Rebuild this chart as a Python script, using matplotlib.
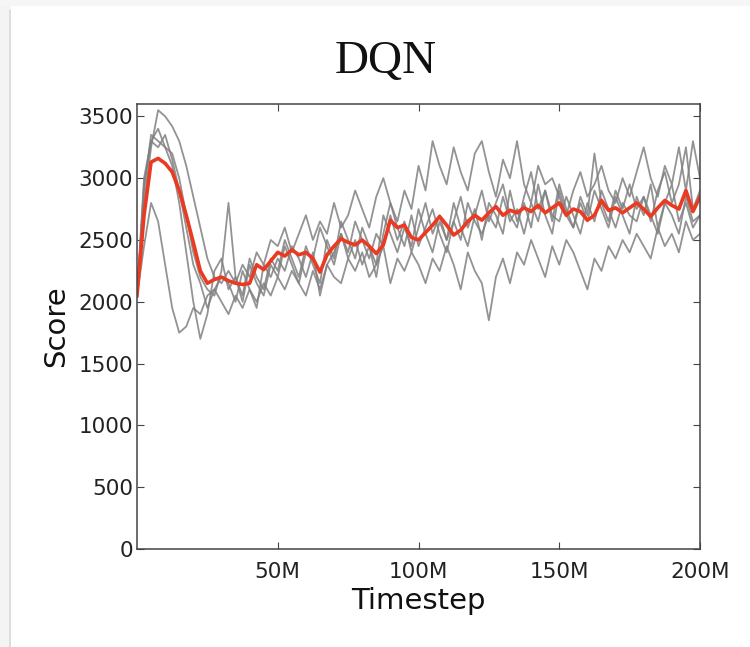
"""DQN score curves: individual runs (gray) and their mean (red)."""

import matplotlib

matplotlib.use("Agg")
import matplotlib.pyplot as plt
import numpy as np
from matplotlib.patches import Rectangle
from matplotlib.ticker import FuncFormatter

# timesteps in millions, one sample every 2.5M
timestep_m = np.arange(0, 200.1, 2.5)

run_1 = [
    2050, 2800, 3250, 3550, 3500, 3420, 3300, 3100, 2850, 2600,
    2350, 2200, 2150, 2250, 2150, 2300, 2200, 2400, 2300, 2500,
    2450, 2600, 2400, 2550, 2700, 2500, 2650, 2550, 2800, 2600,
    2700, 2900, 2750, 2600, 2850, 3000, 2800, 2650, 2900, 2750,
    3100, 2900, 3300, 3100, 2950, 3250, 3050, 2900, 3200, 3300,
    3050, 2850, 3150, 3000, 3300, 2950, 2800, 3100, 2950, 3000,
    2850, 2700, 2900, 3050, 2850, 2950, 3100, 2900, 2800, 3000,
    2850, 3050, 3250, 3000, 2850, 3100, 2950, 3250, 2900, 3300,
    3000,
]
run_2 = [
    2050, 2450, 2800, 2650, 2300, 1950, 1750, 1800, 1950, 1900,
    2050, 2100, 2000, 1900, 2050, 1950, 2100, 2000, 2150, 2050,
    2200, 2100, 2250, 2150, 2050, 2250, 2100, 2300, 2200, 2150,
    2350, 2250, 2400, 2200, 2300, 2450, 2150, 2350, 2250, 2400,
    2300, 2150, 2350, 2250, 2450, 2300, 2100, 2400, 2250, 2150,
    1850, 2200, 2350, 2150, 2400, 2300, 2500, 2350, 2200, 2450,
    2300, 2500, 2400, 2250, 2100, 2350, 2250, 2450, 2350, 2500,
    2400, 2550, 2450, 2350, 2600, 2450, 2550, 2400, 2650, 2500,
    2550,
]
run_3 = [
    2050, 2900, 3350, 3300, 3250, 3100, 2800, 2400, 2000, 1700,
    1900, 2250, 2350, 2100, 2200, 2000, 2300, 2150, 2050, 2300,
    2200, 2450, 2300, 2150, 2400, 2350, 2600, 2450, 2300, 2550,
    2400, 2650, 2500, 2350, 2550, 2450, 2700, 2500, 2650, 2400,
    2600, 2800, 2550, 2700, 2500, 2650, 2850, 2600, 2750, 2500,
    2800, 2700, 2550, 2900, 2650, 2800, 2600, 2950, 2700, 2550,
    2900, 2700, 2600, 2800, 2650, 2900, 2750, 2600, 2850, 2700,
    2550, 2850, 2700, 2950, 2600, 2800, 2700, 2550, 2850, 2650,
    2700,
]
run_4 = [
    2050, 2950, 3300, 3400, 3250, 3200, 3000, 2700, 2400, 2200,
    2100, 2050, 2250, 2800, 2200, 2050, 2350, 2200, 2100, 2350,
    2250, 2500, 2350, 2200, 2450, 2300, 2150, 2500, 2350, 2650,
    2500, 2350, 2600, 2450, 2300, 2700, 2550, 2400, 2600, 2450,
    2750, 2550, 2400, 2650, 2500, 2800, 2600, 2450, 2700, 2900,
    2650, 2800, 2950, 2700, 2600, 2850, 3050, 2750, 2900, 2650,
    2950, 2750, 2600, 2850, 2700, 3200, 2800, 2650, 2900, 2750,
    2950, 2750, 2850, 2650, 2900, 3050, 2800, 2950, 3250, 2750,
    2900,
]
run_5 = [
    2050, 3000, 3300, 3250, 3350, 3150, 2900, 2600, 2300, 2150,
    1950, 2100, 2200, 2150, 2000, 2250, 2100, 1950, 2300, 2200,
    2350, 2250, 2450, 2350, 2200, 2400, 2050, 2300, 2400, 2550,
    2350, 2500, 2300, 2450, 2200, 2550, 2800, 2600, 2450, 2700,
    2450, 2600, 2750, 2550, 2400, 2650, 2500, 2800, 2650, 2550,
    2700, 2600, 2850, 2650, 2750, 2550, 2800, 2650, 2900, 2700,
    2650, 2850, 2700, 2550, 2800, 2650, 2900, 2750, 2600, 2800,
    2700, 2650, 2850, 2700, 2550, 2800, 2950, 2650, 2800, 2600,
    2700,
]
mean_score = [
    2050, 2700, 3130, 3160, 3120, 3050, 2900, 2700, 2480, 2250,
    2150, 2180, 2200, 2170, 2150, 2140, 2150, 2300, 2260, 2330,
    2400, 2370, 2420, 2380, 2400, 2350, 2240, 2380, 2450, 2510,
    2480, 2460, 2500, 2450, 2390, 2460, 2660, 2600, 2620, 2520,
    2500, 2560, 2620, 2690, 2620, 2540, 2580, 2650, 2700, 2660,
    2720, 2770, 2700, 2740, 2720, 2760, 2730, 2780, 2720, 2760,
    2800, 2700, 2750, 2730, 2660, 2700, 2820, 2740, 2760, 2720,
    2760, 2800, 2750, 2690, 2760, 2820, 2780, 2750, 2900, 2730,
    2850,
]
runs = [run_1, run_2, run_3, run_4, run_5]

x_ticks = [50, 100, 150, 200]
y_ticks = [0, 500, 1000, 1500, 2000, 2500, 3000, 3500]

fig = plt.figure(figsize=(7.5, 6.47), dpi=100)
fig.patch.set_facecolor("white")

# faint card edge around the screenshot
fig.patches.append(Rectangle((0, 0), 11 / 750, 1, transform=fig.transFigure,
                             facecolor="#f4f4f4", edgecolor="none", zorder=-5))
fig.patches.append(Rectangle((9 / 750, 0), 2 / 750, 1 - 10 / 647, transform=fig.transFigure,
                             facecolor="#dddddd", edgecolor="none", zorder=-4))
fig.patches.append(Rectangle((0, 1 - 6 / 647), 1, 6 / 647, transform=fig.transFigure,
                             facecolor="#f6f6f6", edgecolor="none", zorder=-5))

ax = fig.add_axes([137 / 750, 1 - 549 / 647, 563 / 750, 445 / 647])

for run in runs:
    ax.plot(timestep_m, run, color="#808080", lw=1.3, alpha=0.85)
ax.plot(timestep_m, mean_score, color="#ea3a22", lw=2.6)

ax.set_xlim(0, 200)
ax.set_ylim(0, 3600)
ax.set_xticks(x_ticks)
ax.set_yticks(y_ticks)
ax.xaxis.set_major_formatter(FuncFormatter(lambda v, _: f"{int(v)}M"))
ax.tick_params(direction="in", length=5, width=0.8, top=True, right=True,
               labelsize=15.5, labelcolor="#222222", color="#444444")
ax.tick_params(axis="x", pad=9)
ax.tick_params(axis="y", pad=3)
for spine in ax.spines.values():
    spine.set_color("#444444")
    spine.set_linewidth(1.1)

ax.set_xlabel("Timestep", fontsize=21, color="#111111", labelpad=4)
ax.set_ylabel("Score", fontsize=21, color="#111111", labelpad=6)
fig.text(0.515, 1 - 62 / 647, "DQN", family="Liberation Serif", fontsize=34,
         ha="center", va="center", color="#111111")

fig.savefig("out.png", dpi=100)
plt.close(fig)
